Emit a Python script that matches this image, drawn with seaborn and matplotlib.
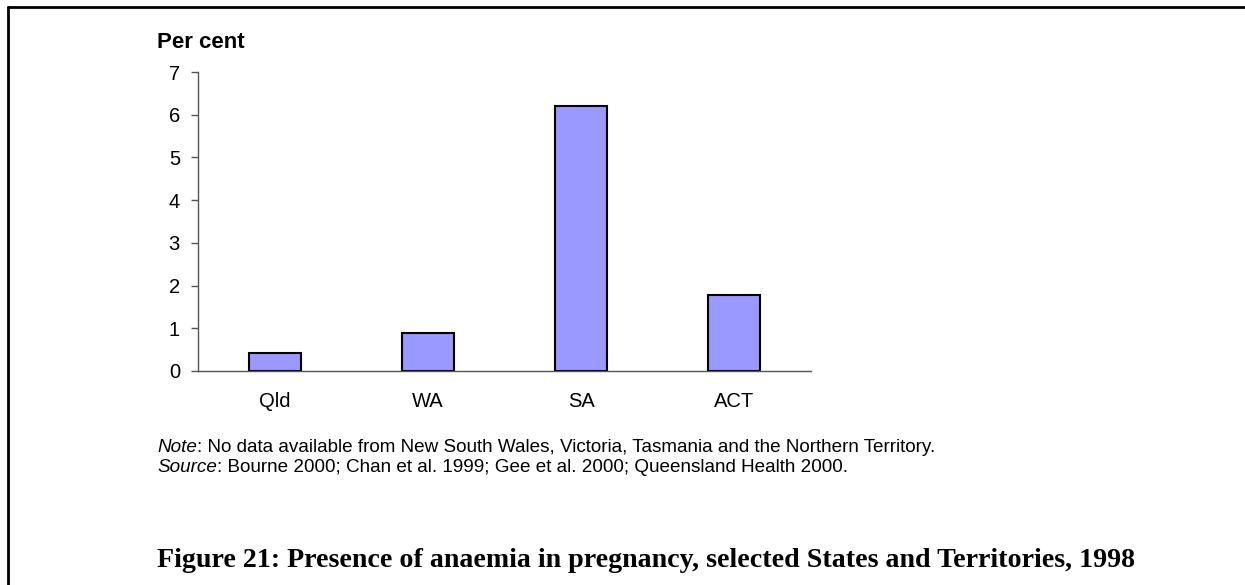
import matplotlib
matplotlib.use("Agg")
import matplotlib.pyplot as plt
from matplotlib.lines import Line2D
import pandas as pd
import seaborn as sns

states = ["Qld", "WA", "SA", "ACT"]
per_cent = [0.42, 0.88, 6.2, 1.78]
y_ticks = [0, 1, 2, 3, 4, 5, 6, 7]

note_text = ": No data available from New South Wales, Victoria, Tasmania and the Northern Territory."
source_text = ": Bourne 2000; Chan et al. 1999; Gee et al. 2000; Queensland Health 2000."
title_text = "Figure 21: Presence of anaemia in pregnancy, selected States and Territories, 1998"

sns.set_style("white")
plt.rcParams['font.family'] = ['Liberation Sans', 'DejaVu Sans']
plt.rcParams['text.color'] = 'black'
plt.rcParams['xtick.color'] = 'black'
plt.rcParams['ytick.color'] = 'black'

df = pd.DataFrame({"state": states, "value": per_cent})

W, H = 1245, 585
fig = plt.figure(figsize=(W / 100, H / 100), dpi=100)
ax = fig.add_axes([198 / W, 1 - 371 / H, (811 - 198) / W, (371 - 72) / H])

sns.barplot(data=df, x="state", y="value", ax=ax, color="#9999FF",
            width=0.34, edgecolor="black", linewidth=1.5, saturation=1)

ax.set_ylim(0, 7)
ax.set_xlim(-0.5, 3.5)
ax.set_yticks(y_ticks)
ax.set_xlabel("")
ax.set_ylabel("")
ax.tick_params(axis="y", direction="out", length=5, width=1, color="#555555",
               labelcolor="black", labelsize=14.5, pad=8, left=True)
ax.tick_params(axis="x", length=0, labelsize=14.5, pad=15, labelcolor="black")
for s in ["top", "right"]:
    ax.spines[s].set_visible(False)
ax.spines["left"].set_color("#555555")
ax.spines["bottom"].set_color("#555555")
ax.spines["left"].set_linewidth(1)
ax.spines["bottom"].set_linewidth(1)

fig.text(157 / W, 1 - 42 / H, "Per cent", fontsize=16, fontweight="bold",
         va="center", ha="left")

# note and source lines
t = fig.text(157 / W, 1 - 447 / H, "Note", fontsize=13.6, style="italic", va="center")
fig.canvas.draw()
bb = t.get_window_extent()
fig.text(bb.x1 / W, 1 - 447 / H, note_text, fontsize=13.6, va="center")
t2 = fig.text(157 / W, 1 - 468 / H, "Source", fontsize=13.6, style="italic", va="center")
fig.canvas.draw()
bb2 = t2.get_window_extent()
fig.text(bb2.x1 / W, 1 - 468 / H, source_text, fontsize=13.6, va="center")

fig.text(157 / W, 1 - 567 / H, title_text, fontsize=20.15, fontweight="bold",
         family=["Liberation Serif", "DejaVu Serif"], va="baseline", ha="left")

# page frame (top and left only)
fig.add_artist(Line2D([8 / W, 1], [1 - 7 / H, 1 - 7 / H], color="black", lw=2,
                      transform=fig.transFigure))
fig.add_artist(Line2D([8 / W, 8 / W], [0, 1 - 7 / H], color="black", lw=2,
                      transform=fig.transFigure))

fig.savefig("out.png", dpi=100)
